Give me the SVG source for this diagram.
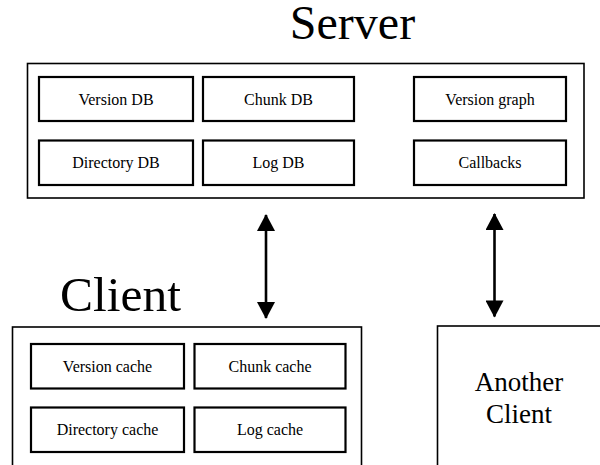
<svg xmlns="http://www.w3.org/2000/svg" width="600" height="465" viewBox="0 0 600 465">
<style>
text{font-family:'Liberation Serif','Times New Roman',serif;fill:#000;text-anchor:middle}
.title{font-size:48px}
.lbl{font-size:16px}
.big{font-size:27px}
.outer{fill:#fff;stroke:#000;stroke-width:1.6}
.inner{fill:#fff;stroke:#000;stroke-width:2.2}
.conn{stroke:#000;stroke-width:2.6;fill:none}
</style>
<defs>
<marker id="ah" markerUnits="userSpaceOnUse" markerWidth="18" markerHeight="18" viewBox="0 0 16 17" refX="15" refY="8.5" orient="auto-start-reverse">
<path d="M0,0 L16,8.5 L0,17 Z" fill="#000"/>
</marker>
</defs>
<rect width="600" height="465" fill="#fff"/>
<g id="server">
<text class="title" x="352.5" y="39">Server</text>
<rect class="outer" x="27.5" y="63.5" width="556.5" height="134.5"/>
</g>
<g id="version-db"><rect class="inner" x="39" y="77" width="154" height="44"/><text class="lbl" x="116" y="104.5">Version DB</text></g>
<g id="chunk-db"><rect class="inner" x="203" y="77" width="151" height="44"/><text class="lbl" x="278.5" y="104.5">Chunk DB</text></g>
<g id="version-graph"><rect class="inner" x="414" y="77" width="152" height="44"/><text class="lbl" x="490" y="104.5">Version graph</text></g>
<g id="directory-db"><rect class="inner" x="39" y="140.5" width="154" height="44.5"/><text class="lbl" x="116" y="168">Directory DB</text></g>
<g id="log-db"><rect class="inner" x="203" y="140.5" width="151" height="44.5"/><text class="lbl" x="278.5" y="168">Log DB</text></g>
<g id="callbacks"><rect class="inner" x="414" y="140.5" width="152" height="44.5"/><text class="lbl" x="490" y="168">Callbacks</text></g>
<g id="client">
<text class="title" x="120.5" y="310.5" style="font-size:49.5px">Client</text>
<rect class="outer" x="12.5" y="327" width="349" height="160"/>
</g>
<g id="version-cache"><rect class="inner" x="31" y="344" width="153" height="44.5"/><text class="lbl" x="107.5" y="371.5">Version cache</text></g>
<g id="chunk-cache"><rect class="inner" x="194.5" y="344" width="151" height="44.5"/><text class="lbl" x="270" y="371.5">Chunk cache</text></g>
<g id="directory-cache"><rect class="inner" x="31" y="407.5" width="153" height="44.5"/><text class="lbl" x="107.5" y="435">Directory cache</text></g>
<g id="log-cache"><rect class="inner" x="194.5" y="407.5" width="151" height="44.5"/><text class="lbl" x="270" y="435">Log cache</text></g>
<g id="another-client">
<rect class="outer" x="437.5" y="326" width="200" height="160"/>
<text class="big" x="519" y="390.5">Another</text>
<text class="big" x="519" y="422.5">Client</text>
</g>
<g id="connectors">
<line class="conn" x1="266" y1="215" x2="266" y2="318" marker-start="url(#ah)" marker-end="url(#ah)"/>
<line class="conn" x1="494.5" y1="214" x2="494.5" y2="316.5" marker-start="url(#ah)" marker-end="url(#ah)"/>
</g>
</svg>
